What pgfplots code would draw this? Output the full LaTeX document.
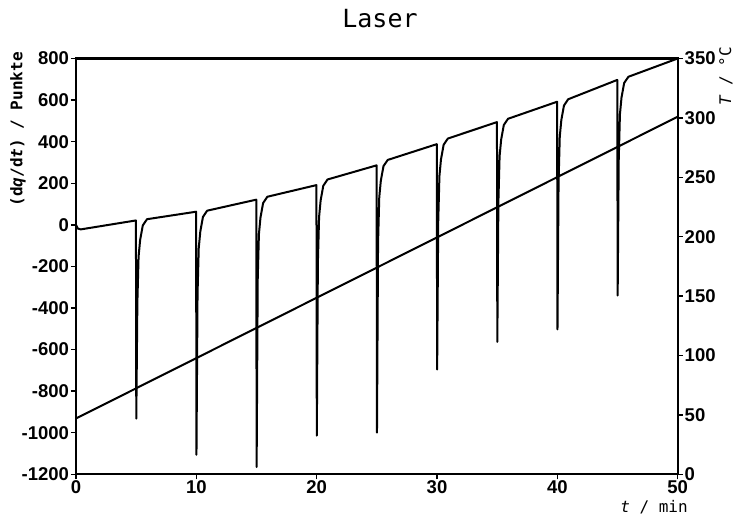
\documentclass[border=0pt]{standalone}
\usepackage{fontspec}
\setmainfont{Liberation Sans}
\newfontfamily\monof{DejaVu Sans Mono}
\usepackage{pgfplots}
\usepackage{pgfplotstable}
\pgfplotsset{compat=1.18}

\pgfplotstableread{
t v
0 0
0.15 -18
0.4 -22
4.98 21
5.01 -932
5.10 -373
5.20 -153
5.33 -73
5.55 -3
5.90 27
9.98 63
10.01 -1106
10.10 -332
10.20 -112
10.33 -32
10.55 38
10.90 68
14.98 121
15.01 -1165
15.10 -265
15.20 -45
15.33 35
15.55 105
15.90 135
19.98 191
20.01 -1014
20.10 -182
20.20 38
20.33 118
20.55 188
20.90 218
24.98 286
25.01 -1000
25.10 -88
25.20 132
25.33 212
25.55 282
25.90 312
29.98 388
30.01 -696
30.10 15
30.20 235
30.33 315
30.55 385
30.90 415
34.98 494
35.01 -563
35.10 110
35.20 330
35.33 410
35.55 480
35.90 510
39.98 592
40.01 -503
40.10 204
40.20 424
40.33 504
40.55 574
40.90 604
44.98 697
45.01 -340
45.10 312
45.20 532
45.33 612
45.55 682
45.90 712
50 800
}\dqdata

\pgfplotstableread{
t T
0 47
50 301
}\Tdata

\begin{document}
\begin{tikzpicture}
\pgfplotsset{
  every axis/.append style={
    scale only axis, width=601.7pt, height=415.8pt,
    at={(0,0)}, anchor=south west,
    xmin=0, xmax=50,
    axis line style={line width=2.4pt},
    major tick style={line width=1.4pt, black},
    major tick length=5pt,
    tick align=outside,
    /pgf/number format/assume math mode=true,
    /pgf/number format/set thousands separator={},
    tick label style={font=\bfseries\fontsize{18.5}{18.5}\selectfont},
  }
}
\begin{axis}[
  ymin=-1200, ymax=800, ytick={-1200,-1000,...,800},
  xtick={0,10,...,50},
  xtick pos=bottom, ytick pos=left,
  yticklabel style={xshift=1.5pt},
  xticklabel style={yshift=2pt},
]
\addplot[black, line width=2pt, line join=round] table[x=t, y=v] {\dqdata};
\end{axis}
\begin{axis}[
  ymin=0, ymax=350, ytick={0,50,...,350},
  axis y line*=right, axis x line=none,
  yticklabel style={xshift=-1.5pt},
]
\addplot[black, line width=2pt] table[x=t, y=T] {\Tdata};
\end{axis}
\node[font=\monof\fontsize{25}{25}\selectfont] at (304pt,456pt) {Laser};
\node[font=\monof\bfseries\fontsize{16}{16}\selectfont, rotate=90] at (-58pt,345pt) {(d\textit{q}/d\textit{t}) / Punkte};
\node[font=\monof\fontsize{16}{16}\selectfont] at (578pt,-33pt) {\textit{t} / min};
\node[font=\monof\fontsize{16}{16}\selectfont, rotate=90] at (650pt,398pt) {\textit{T} / °C};
\pgfresetboundingbox
\path (-76pt,-43.7pt) rectangle (662pt,474.3pt);
\end{tikzpicture}
\end{document}
